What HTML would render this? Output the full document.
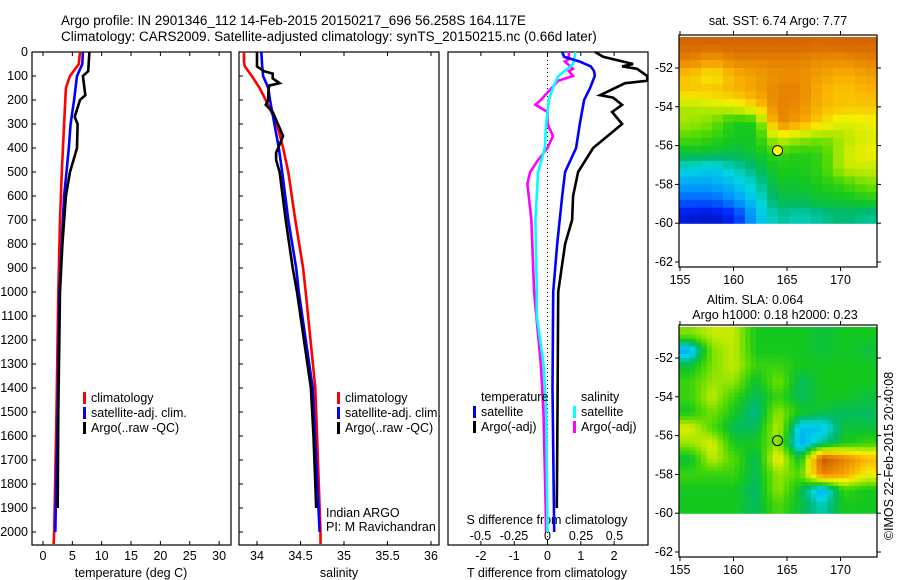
<!DOCTYPE html>
<html><head><meta charset="utf-8"><style>
body{margin:0;background:#fff;}
svg{display:block;font-family:"Liberation Sans",sans-serif;}
text{font-size:12.5px;fill:#000;}
</style></head><body>
<svg id="c" width="900" height="580" viewBox="0 0 900 580" xmlns="http://www.w3.org/2000/svg">
<text x="61" y="25" style="font-size:13.5px">Argo profile: IN 2901346_112 14-Feb-2015 20150217_696 56.258S 164.117E</text>
<text x="61" y="41" style="font-size:13.5px">Climatology: CARS2009. Satellite-adjusted climatology: synTS_20150215.nc (0.66d later)</text>
<g id="g"></g>
</svg>
<script>
// ---- data ----
const tClimDepth=[0,50,100,150,300,500,700,1000,1500,2000,2050];
const tClim=[6.3,6.1,4.6,3.9,3.6,3.2,2.9,2.6,2.3,1.9,1.8];
const tSatDepth=[0,50,100,200,300,400,500,600,800,1000,1500,2000];
const tSat=[6.8,6.7,5.8,5.3,4.7,4.4,4.0,3.6,3.2,2.8,2.5,2.1];
const tArgoDepth=[0,80,100,180,200,270,300,400,500,600,800,1000,1500,1900];
const tArgo=[7.9,7.7,6.8,7.2,6.3,5.4,5.9,5.8,4.6,3.9,3.3,2.9,2.6,2.5];
const sClimDepth=[0,40,60,100,150,200,300,400,500,700,900,1000,1400,1500,2000,2050];
const sClim=[33.85,33.85,33.86,33.94,34.03,34.1,34.23,34.3,34.36,34.44,34.53,34.56,34.67,34.68,34.73,34.73];
const sSatDepth=[0,60,100,150,200,300,400,500,700,900,1000,1400,2000];
const sSat=[34.05,34.06,34.07,34.13,34.15,34.2,34.25,34.29,34.36,34.45,34.48,34.64,34.72];
const sArgoDepth=[0,60,80,90,110,130,140,170,200,220,250,300,350,420,450,500,700,900,1000,1400,1600,1900];
const sArgo=[34.0,34.0,34.08,34.18,34.18,34.26,34.14,34.13,34.13,34.1,34.18,34.24,34.3,34.22,34.22,34.26,34.33,34.41,34.46,34.62,34.65,34.68];
const dTSatDepth=[0,20,40,60,80,100,150,200,300,400,500,600,800,1000,1400,2000];
const dTSat=[0.44,0.5,0.97,1.3,1.4,1.42,1.28,1.1,0.97,0.86,0.53,0.44,0.29,0.17,0.15,0.2];
const dTArgoDepth=[0,20,50,60,70,100,110,120,130,180,190,220,250,300,400,500,600,700,800,1000,1500,1900];
const dTArgo=[1.43,1.67,2.57,2.24,2.69,2.99,3.0,2.99,2.33,1.58,1.97,2.24,1.94,2.24,1.37,0.92,0.77,0.74,0.53,0.32,0.3,0.28];
const dSSatDepth=[0,50,70,100,150,200,300,400,500,700,1000,1100,1300,1500,2000];
const dSSat=[0.21,0.19,0.15,0.08,0.04,0.01,-0.01,-0.02,-0.07,-0.09,-0.08,-0.08,-0.03,-0.01,0.0];
const dSArgoDepth=[0,30,40,70,80,100,120,200,220,250,300,350,400,450,500,550,700,1000,1300,1500,2000];
const dSArgo=[0.16,0.16,0.13,0.19,0.16,0.19,0.08,-0.05,-0.09,0,0,0.04,0,-0.07,-0.13,-0.15,-0.12,-0.1,-0.05,-0.03,-0.01];
const depthTicks=[0,100,200,300,400,500,600,700,800,900,1000,1100,1200,1300,1400,1500,1600,1700,1800,1900,2000];
const tTicks=[0,5,10,15,20,25,30];
const sTicks=[34,34.5,35,35.5,36];
const dTTicks=[-2,-1,0,1,2];
const dSTicks=[-0.5,-0.25,0,0.25,0.5];
const latTicks=[-52,-54,-56,-58,-60,-62];
const lonTicks=[155,160,165,170];
const sstGrid=[
[0.85,0.85,0.85,0.85,0.85,0.85,0.84,0.85,0.85],
[0.8,0.75,0.8,0.8,0.8,0.8,0.78,0.78,0.8],
[0.7,0.65,0.72,0.75,0.78,0.78,0.75,0.72,0.75],
[0.7,0.7,0.72,0.75,0.8,0.8,0.72,0.7,0.72],
[0.58,0.6,0.62,0.68,0.8,0.78,0.72,0.7,0.7],
[0.58,0.55,0.47,0.48,0.8,0.75,0.68,0.62,0.64],
[0.52,0.5,0.47,0.47,0.62,0.58,0.55,0.58,0.62],
[0.45,0.45,0.44,0.46,0.5,0.48,0.5,0.6,0.64],
[0.36,0.34,0.38,0.42,0.48,0.47,0.5,0.6,0.6],
[0.3,0.3,0.33,0.38,0.46,0.46,0.48,0.5,0.55],
[0.22,0.22,0.28,0.35,0.44,0.44,0.46,0.46,0.48],
[0.1,0.08,0.14,0.32,0.4,0.38,0.4,0.42,0.4]];
const slaGrid=[
[0.55,0.6,0.6,0.47,0.47,0.47,0.45,0.47,0.47],
[0.3,0.55,0.6,0.47,0.47,0.47,0.45,0.47,0.45],
[0.45,0.55,0.6,0.5,0.5,0.47,0.47,0.47,0.47],
[0.5,0.57,0.57,0.45,0.55,0.43,0.47,0.47,0.47],
[0.5,0.6,0.5,0.43,0.5,0.43,0.47,0.47,0.45],
[0.47,0.55,0.47,0.4,0.57,0.47,0.45,0.43,0.43],
[0.62,0.52,0.43,0.43,0.6,0.33,0.33,0.45,0.45],
[0.57,0.62,0.47,0.47,0.57,0.3,0.4,0.47,0.5],
[0.45,0.6,0.52,0.43,0.65,0.45,0.88,0.8,0.72],
[0.5,0.5,0.5,0.43,0.57,0.52,0.8,0.75,0.65],
[0.47,0.47,0.47,0.42,0.57,0.45,0.3,0.5,0.47],
[0.47,0.47,0.47,0.43,0.52,0.45,0.38,0.47,0.47]];
const argoLon=164.117, argoLat=-56.258;

// ---- helpers ----
const NS="http://www.w3.org/2000/svg";
const G=document.getElementById('g');
function mk(tag,attrs,parent){const e=document.createElementNS(NS,tag);for(const k in attrs)e.setAttribute(k,attrs[k]);(parent||G).appendChild(e);return e;}
function txt(x,y,s,anchor,name,extra){const e=mk('text',Object.assign({x:x,y:y,'text-anchor':anchor||'start'},extra||{}));e.textContent=s;


return e;}
const yD=d=>52+d*0.24;
const BOT=545, TOP=52;
function frame(x0,x1,name){const r=mk('rect',{x:x0,y:TOP,width:x1-x0,height:BOT-TOP,fill:'none',stroke:'#000','stroke-width':1.2});

}
function line(depths,vals,fx,color,name){const pts=depths.map((d,i)=>fx(vals[i]).toFixed(1)+','+yD(d).toFixed(1)).join(' ');
const p=mk('polyline',{points:pts,fill:'none',stroke:color,'stroke-width':2.6,'stroke-linejoin':'miter'});

}
function xticks(vals,fx,labY,fmt,name){vals.forEach(v=>{const x=fx(v);mk('line',{x1:x,x2:x,y1:BOT,y2:BOT-4,stroke:'#000'});mk('line',{x1:x,x2:x,y1:TOP,y2:TOP+4,stroke:'#000'});txt(x,labY,fmt?fmt(v):String(v),'middle',name);});}
function legend(x,y,items,name){items.forEach((it,i)=>{const r=mk('rect',{x:x,y:y+i*15-10,width:3,height:12,fill:it[0]});


txt(x+8,y+i*15,it[1],'start',name+'-entry');});}

// panel 1 temperature
const fT=t=>43+t*5.87;
frame(32,231,'temperature-panel');
depthTicks.forEach(d=>{mk('line',{x1:32,x2:36,y1:yD(d),y2:yD(d),stroke:'#000'});txt(28,yD(d)+4,String(d),'end','depth-tick-label');});
xticks(tTicks,fT,560,null,'temperature-tick-label');
txt(131,577,'temperature (deg C)','middle','temperature-axis-title');
line(tClimDepth,tClim,fT,'#ff0000','temp-climatology-line');
line(tSatDepth,tSat,fT,'#0000ff','temp-satellite-line');
line(tArgoDepth,tArgo,fT,'#000000','temp-argo-line');
legend(83,402,[['#f00','climatology'],['#00f','satellite-adj. clim.'],['#000','Argo(..raw -QC)']],'temp-legend');

// panel 2 salinity
const fS=s=>257+(s-34)*87;
frame(239,439,'salinity-panel');
depthTicks.forEach(d=>{mk('line',{x1:239,x2:243,y1:yD(d),y2:yD(d),stroke:'#000'});});
xticks(sTicks,fS,560,null,'salinity-tick-label');
txt(339,577,'salinity','middle','salinity-axis-title');
line(sClimDepth,sClim,fS,'#ff0000','sal-climatology-line');
line(sSatDepth,sSat,fS,'#0000ff','sal-satellite-line');
line(sArgoDepth,sArgo,fS,'#000000','sal-argo-line');
legend(337,402,[['#f00','climatology'],['#00f','satellite-adj. clim.'],['#000','Argo(..raw -QC)']],'sal-legend');
txt(326,517,'Indian ARGO','start','institution-label');
txt(326,531,'PI: M Ravichandran','start','pi-label');

// panel 3 differences
const fDT=v=>547.5+v*33.3;
const fDS=v=>547.5+v*134;
frame(448,648,'difference-panel');
mk('line',{x1:547.5,x2:547.5,y1:TOP,y2:BOT,stroke:'#000','stroke-dasharray':'1,3'});
xticks(dTTicks,fDT,560,null,'t-diff-tick-label');
dSTicks.forEach(v=>txt(fDS(v),540,String(v).replace('0.','.').replace('-.','-0.').replace(/^\./,'0.'),'middle','s-diff-tick-label'));
txt(547,524,'S difference from climatology','middle','s-diff-axis-title');
txt(547,577,'T difference from climatology','middle','t-diff-axis-title');
line(dSArgoDepth,dSArgo,fDS,'#ff00ff','s-diff-argo-line');
line(dSSatDepth,dSSat,fDS,'#00ffff','s-diff-satellite-line');
line(dTArgoDepth,dTArgo,fDT,'#000000','t-diff-argo-line');
line(dTSatDepth,dTSat,fDT,'#0000ff','t-diff-satellite-line');
txt(481,401,'temperature','start','diff-legend-temperature-heading');
legend(473,416,[['#00f','satellite'],['#000','Argo(-adj)']],'diff-legend-temp');
txt(581,401,'salinity','start','diff-legend-salinity-heading');
legend(573,416,[['#0ff','satellite'],['#f0f','Argo(-adj)']],'diff-legend-sal');

// maps
const stops=[[0,[0,0,140]],[0.15,[0,40,255]],[0.28,[0,150,255]],[0.36,[0,215,225]],[0.42,[0,185,110]],[0.47,[20,200,30]],[0.53,[90,220,0]],[0.6,[200,235,0]],[0.65,[245,240,0]],[0.72,[250,180,0]],[0.8,[230,130,0]],[0.88,[200,85,0]],[1,[150,0,0]]];
function cmap(v){v=Math.max(0,Math.min(1,v));for(let i=1;i<stops.length;i++){if(v<=stops[i][0]){const a=stops[i-1],b=stops[i],t=(v-a[0])/(b[0]-a[0]);return 'rgb('+a[1].map((c,k)=>Math.round(c+(b[1][k]-c)*t)).join(',')+')';}}return 'rgb(150,0,0)';}
function sample(grid,r,c){const R=grid.length-1,C=grid[0].length-1;r=Math.max(0,Math.min(R,r));c=Math.max(0,Math.min(C,c));const r0=Math.floor(r),c0=Math.floor(c),r1=Math.min(R,r0+1),c1=Math.min(C,c0+1),fr=r-r0,fc=c-c0;
return grid[r0][c0]*(1-fr)*(1-fc)+grid[r0][c1]*(1-fr)*fc+grid[r1][c0]*fr*(1-fc)+grid[r1][c1]*fr*fc;}
function drawMap(y0,grid,name,fillCircle,sub){
  const X0=679,X1=877,Y1=y0+232;
  const fx=lon=>680+(lon-155)*10.7;
  const fy=lat=>y0+33+(-lat-52)*19.4;
  const lat0=-50.4,lat1=-60,lon0=155,lon1=173.5;
  const rows=grid.length, cols=grid[0].length;
  const nr=rows*sub,nc=cols*sub;
  const dLat=(lat0-lat1)/nr, dLon=(lon1-lon0)/nc;
  for(let i=0;i<nr;i++)for(let j=0;j<nc;j++){
    const v=sub>1?sample(grid,(i+0.5)/sub-0.5,(j+0.5)/sub-0.5):grid[i][j];
    const x=fx(lon0+j*dLon)-1, y=fy(lat0-i*dLat);
    const r=mk('rect',{x:x.toFixed(1),y:y.toFixed(1),width:(dLon*10.7+0.6).toFixed(1),height:(dLat*19.4+0.6).toFixed(1),fill:cmap(v)});
    
    
  }
  const f=mk('rect',{x:X0,y:y0,width:X1-X0,height:232,fill:'none',stroke:'#000','stroke-width':1.2});
  
  
  latTicks.forEach(l=>{const y=fy(l);mk('line',{x1:675,x2:679,y1:y,y2:y,stroke:'#000'});mk('line',{x1:877,x2:881,y1:y,y2:y,stroke:'#000'});txt(673,y+4,String(l),'end',name+'-lat-label');});
  lonTicks.forEach(l=>{const x=fx(l);mk('line',{x1:x,x2:x,y1:Y1,y2:Y1+4,stroke:'#000'});mk('line',{x1:x,x2:x,y1:y0,y2:y0-4,stroke:'#000'});txt(x,Y1+17,String(l),'middle',name+'-lon-label');});
  const c=mk('circle',{cx:fx(argoLon),cy:fy(argoLat),r:5,fill:fillCircle?'#ffff00':'none',stroke:'#000','stroke-width':1});
  
  
}
drawMap(35,sstGrid,'sst-map',true,2);
txt(778,25,'sat. SST: 6.74 Argo: 7.77','middle','sst-map-title');
drawMap(325,slaGrid,'sla-map',false,4);
txt(755,304,'Altim. SLA: 0.064','middle','sla-map-title');
txt(775,319,'Argo h1000: 0.18 h2000: 0.23','middle','sla-map-subtitle');
txt(0,0,'©IMOS 22-Feb-2015 20:40:08','middle','imos-credit',{transform:'translate(893,456) rotate(-90)'});
</script>
</body></html>
